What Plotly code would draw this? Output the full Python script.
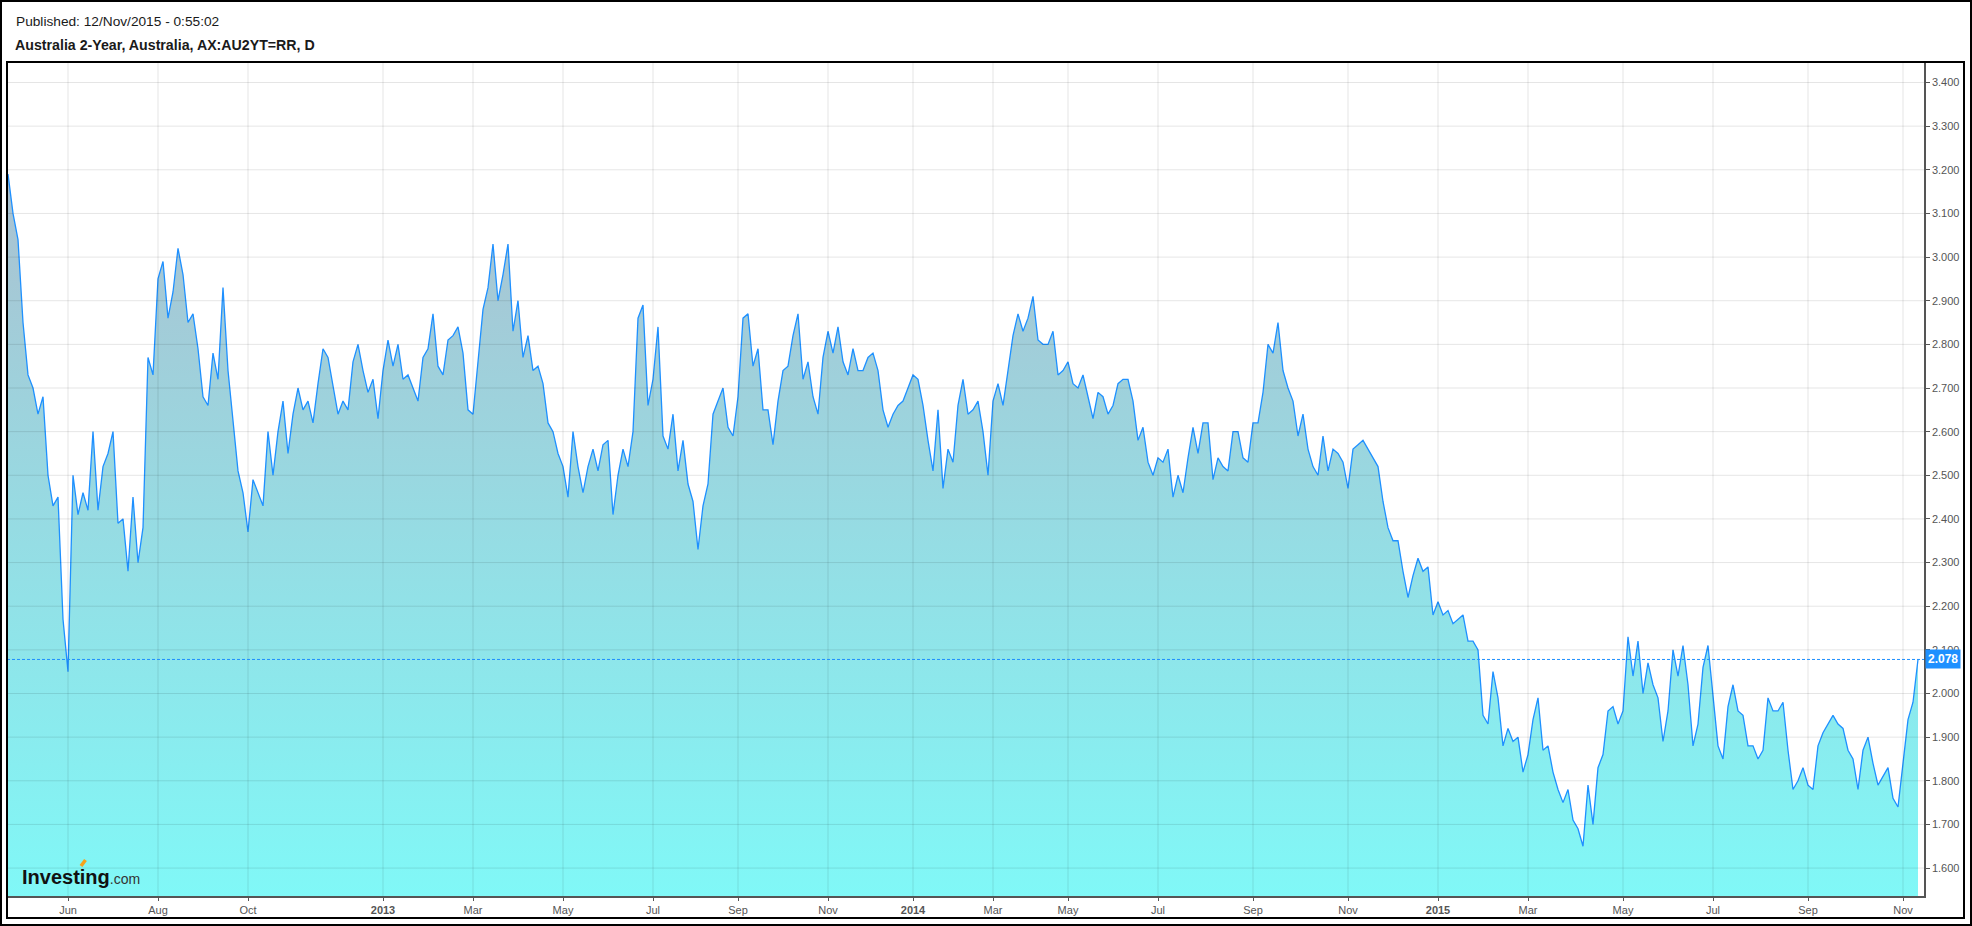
import pandas as pd
import plotly.graph_objects as go

# ---------------- data (Australia 2-Year yield, readings in %) ----------------
yields_2012_apr_may = [3.19, 3.10, 3.04, 2.85, 2.73, 2.70, 2.64, 2.68, 2.50, 2.43, 2.45, 2.17]
yields_2012_jun_jul = [2.05, 2.50, 2.41, 2.46, 2.42, 2.60, 2.42, 2.52, 2.55, 2.60, 2.39, 2.40,
                       2.28, 2.45, 2.30, 2.38, 2.77, 2.73]
yields_2012_aug_sep = [2.95, 2.99, 2.86, 2.92, 3.02, 2.96, 2.85, 2.87, 2.79, 2.68, 2.66, 2.78,
                       2.72, 2.93, 2.74, 2.63, 2.51, 2.46]
yields_2012_oct_dec = [2.37, 2.49, 2.46, 2.43, 2.60, 2.50, 2.60, 2.67, 2.55, 2.64, 2.70, 2.65,
                       2.67, 2.62, 2.71, 2.79, 2.77, 2.70, 2.64, 2.67, 2.65, 2.76, 2.80, 2.74,
                       2.69, 2.72, 2.63]
yields_2013_jan_feb = [2.74, 2.81, 2.75, 2.80, 2.72, 2.73, 2.70, 2.67, 2.77, 2.79, 2.87, 2.75,
                       2.73, 2.81, 2.82, 2.84, 2.78, 2.65]
yields_2013_mar_apr = [2.64, 2.76, 2.88, 2.93, 3.03, 2.90, 2.96, 3.03, 2.83, 2.90, 2.77, 2.82,
                       2.74, 2.75, 2.71, 2.62, 2.60, 2.55]
yields_2013_may_jun = [2.52, 2.45, 2.60, 2.52, 2.46, 2.52, 2.56, 2.51, 2.57, 2.58, 2.41, 2.50,
                       2.56, 2.52, 2.60, 2.86, 2.89, 2.66]
yields_2013_jul_aug = [2.72, 2.84, 2.59, 2.56, 2.64, 2.51, 2.58, 2.48, 2.44, 2.33, 2.43, 2.48,
                       2.64, 2.67, 2.70, 2.61, 2.59]
yields_2013_sep_oct = [2.68, 2.86, 2.87, 2.75, 2.79, 2.65, 2.65, 2.57, 2.67, 2.74, 2.75, 2.82,
                       2.87, 2.72, 2.76, 2.68, 2.64, 2.77]
yields_2013_nov_dec = [2.83, 2.78, 2.84, 2.76, 2.73, 2.79, 2.74, 2.74, 2.77, 2.78, 2.74, 2.65,
                       2.61, 2.64, 2.66, 2.67, 2.70]
yields_2014_jan_feb = [2.73, 2.72, 2.66, 2.58, 2.51, 2.65, 2.47, 2.56, 2.53, 2.66, 2.72, 2.64,
                       2.65, 2.67, 2.60, 2.50]
yields_2014_mar_apr = [2.67, 2.71, 2.66, 2.74, 2.82, 2.87, 2.83, 2.86, 2.91, 2.81, 2.80, 2.80,
                       2.83, 2.73, 2.74]
yields_2014_may_jun = [2.76, 2.71, 2.70, 2.73, 2.68, 2.63, 2.69, 2.68, 2.64, 2.66, 2.71, 2.72,
                       2.72, 2.67, 2.58, 2.61, 2.53, 2.50]
yields_2014_jul_aug = [2.54, 2.53, 2.56, 2.45, 2.50, 2.46, 2.54, 2.61, 2.55, 2.62, 2.62, 2.49,
                       2.54, 2.52, 2.51, 2.60, 2.60, 2.54, 2.53]
yields_2014_sep_oct = [2.62, 2.62, 2.69, 2.80, 2.78, 2.85, 2.74, 2.70, 2.67, 2.59, 2.64, 2.56,
                       2.52, 2.50, 2.59, 2.51, 2.56, 2.55, 2.53]
yields_2014_nov_dec = [2.47, 2.56, 2.57, 2.58, 2.56, 2.54, 2.52, 2.44, 2.38, 2.35, 2.35, 2.28,
                       2.22, 2.27, 2.31, 2.28, 2.29, 2.18]
yields_2015_jan_feb = [2.21, 2.18, 2.19, 2.16, 2.17, 2.18, 2.12, 2.12, 2.10, 1.95, 1.93, 2.05,
                       1.99, 1.88, 1.92, 1.89, 1.90, 1.82]
yields_2015_mar_apr = [1.86, 1.94, 1.99, 1.87, 1.88, 1.82, 1.78, 1.75, 1.78, 1.71, 1.69, 1.65,
                       1.79, 1.70, 1.83, 1.86, 1.96, 1.97, 1.93]
yields_2015_may_jun = [1.96, 2.13, 2.04, 2.12, 2.00, 2.07, 2.02, 1.99, 1.89, 1.96, 2.10, 2.04,
                       2.11, 2.02, 1.88, 1.93, 2.06, 2.11]
yields_2015_jul_aug = [1.99, 1.88, 1.85, 1.97, 2.02, 1.96, 1.95, 1.88, 1.88, 1.85, 1.87, 1.99,
                       1.96, 1.96, 1.98, 1.87, 1.78, 1.80, 1.83]
yields_2015_sep_oct = [1.79, 1.78, 1.88, 1.91, 1.93, 1.95, 1.93, 1.92, 1.87, 1.85, 1.78, 1.87,
                       1.90, 1.84, 1.79, 1.81, 1.83, 1.76, 1.74]
yields_2015_nov = [1.84, 1.94, 1.98, 2.078]

# (period start, period end, readings) -- readings are evenly spread over trading sessions
blocks = [
    ("2012-04-24", "2012-06-01", yields_2012_apr_may),
    ("2012-06-01", "2012-08-01", yields_2012_jun_jul),
    ("2012-08-01", "2012-10-01", yields_2012_aug_sep),
    ("2012-10-01", "2013-01-01", yields_2012_oct_dec),
    ("2013-01-01", "2013-03-01", yields_2013_jan_feb),
    ("2013-03-01", "2013-05-01", yields_2013_mar_apr),
    ("2013-05-01", "2013-07-01", yields_2013_may_jun),
    ("2013-07-01", "2013-09-01", yields_2013_jul_aug),
    ("2013-09-01", "2013-11-01", yields_2013_sep_oct),
    ("2013-11-01", "2014-01-01", yields_2013_nov_dec),
    ("2014-01-01", "2014-03-01", yields_2014_jan_feb),
    ("2014-03-01", "2014-05-01", yields_2014_mar_apr),
    ("2014-05-01", "2014-07-01", yields_2014_may_jun),
    ("2014-07-01", "2014-09-01", yields_2014_jul_aug),
    ("2014-09-01", "2014-11-01", yields_2014_sep_oct),
    ("2014-11-01", "2015-01-01", yields_2014_nov_dec),
    ("2015-01-01", "2015-03-01", yields_2015_jan_feb),
    ("2015-03-01", "2015-05-01", yields_2015_mar_apr),
    ("2015-05-01", "2015-07-01", yields_2015_may_jun),
    ("2015-07-01", "2015-09-01", yields_2015_jul_aug),
    ("2015-09-01", "2015-11-01", yields_2015_sep_oct),
    ("2015-11-01", "2015-11-13", yields_2015_nov),
]

tick_labels = ["Jun", "Aug", "Oct", "<b>2013</b>", "Mar", "May", "Jul", "Sep", "Nov",
               "<b>2014</b>", "Mar", "May", "Jul", "Sep", "Nov",
               "<b>2015</b>", "Mar", "May", "Jul", "Sep", "Nov"]

y_tick_values = [1.6, 1.7, 1.8, 1.9, 2.0, 2.1, 2.2, 2.3, 2.4, 2.5, 2.6, 2.7, 2.8, 2.9,
                 3.0, 3.1, 3.2, 3.3, 3.4]

# ---------------- build series ----------------
dates, values = [], []
for start, end, vals in blocks:
    ds = pd.date_range(start, end, periods=len(vals) + 1)[:-1]
    dates += [d.strftime("%Y-%m-%d") for d in ds]
    values += vals
tick_dates = [pd.Timestamp(s).strftime("%Y-%m-%d") for s, _, _ in blocks[1:]]

# ---------------- styling / geometry ----------------
W, H = 1972, 926
L, R, T, B = 7, 1924, 62, 896          # plot area edges (px)
Y_MIN, Y_MAX = 1.536, 3.447
FONT = "Liberation Sans, Arial, sans-serif"
LINE = "#1e90ff"
GRID = "rgba(0,0,0,0.10)"
AXIS = "#555555"


def px(x):
    return (x - L) / (R - L)


def py(y):
    return (B - y) / (B - T)


fig = go.Figure()
fig.add_trace(go.Scatter(
    x=dates, y=values, mode="lines",
    line=dict(color=LINE, width=1.3),
    fill="tozeroy",
    fillgradient=dict(type="vertical",
                      colorscale=[[0, "rgb(128,248,247)"], [1, "rgb(178,184,202)"]],
                      start=Y_MIN, stop=Y_MAX),
    hoverinfo="skip", showlegend=False,
))

shapes = []
for d in tick_dates:
    shapes.append(dict(type="line", xref="x", yref="paper", x0=d, x1=d, y0=0, y1=1,
                       line=dict(color=GRID, width=1), layer="above"))
for v in y_tick_values:
    shapes.append(dict(type="line", xref="paper", yref="y", x0=0, x1=1, y0=v, y1=v,
                       line=dict(color=GRID, width=1), layer="above"))
# last-price dashed line
shapes.append(dict(type="line", xref="paper", yref="y", x0=0, x1=1,
                   y0=values[-1], y1=values[-1],
                   line=dict(color=LINE, width=1, dash="3px,2px"), layer="above"))
# frames
shapes.append(dict(type="rect", xref="paper", yref="paper",
                   x0=px(7), x1=px(1964), y0=py(918), y1=py(62),
                   line=dict(color="#000", width=2), layer="above"))
shapes.append(dict(type="rect", xref="paper", yref="paper",
                   x0=px(1), x1=px(1971), y0=py(925), y1=py(1),
                   line=dict(color="#000", width=2), layer="above"))
# logo accent
shapes.append(dict(type="line", xref="paper", yref="paper",
                   x0=px(81), x1=px(85.5), y0=py(866), y1=py(860),
                   line=dict(color="#f7a21b", width=3.5), layer="above"))

annotations = [
    dict(text="Published: 12/Nov/2015 - 0:55:02", xref="paper", yref="paper",
         x=px(14), y=py(21), xanchor="left", yanchor="middle", showarrow=False,
         font=dict(family=FONT, size=13.7, color="#1a1a1a")),
    dict(text="<b>Australia 2-Year, Australia, AX:AU2YT=RR, D</b>", xref="paper", yref="paper",
         x=px(13), y=py(45), xanchor="left", yanchor="middle", showarrow=False,
         font=dict(family=FONT, size=14.2, color="#1a1a1a")),
    dict(text='<b>Investing</b><span style="font-size:14px;font-weight:normal;color:#333">.com</span>',
         xref="paper", yref="paper", x=px(20), y=py(877), xanchor="left", yanchor="middle",
         showarrow=False, font=dict(family=FONT, size=20, color="#111")),
    dict(text="<b>%.3f</b>" % values[-1], xref="paper", yref="y", x=px(1925), y=values[-1],
         xanchor="left", yanchor="middle", showarrow=False, bgcolor=LINE, borderpad=2,
         font=dict(family=FONT, size=12, color="#fff")),
]

fig.update_layout(
    width=W, height=H,
    margin=dict(l=L, r=W - R, t=T, b=H - B, pad=0),
    paper_bgcolor="#fff", plot_bgcolor="#fff",
    showlegend=False,
    xaxis=dict(type="category", range=[-0.2, len(values) + 0.2],
               tickmode="array", tickvals=tick_dates, ticktext=tick_labels,
               ticks="outside", ticklen=3, tickcolor=AXIS,
               tickfont=dict(family=FONT, size=11, color="#555"),
               showgrid=False, zeroline=False, showline=True,
               linecolor=AXIS, linewidth=1.5, fixedrange=True),
    yaxis=dict(side="right", range=[Y_MIN, Y_MAX],
               tickmode="linear", tick0=1.6, dtick=0.1, tickformat=".3f",
               ticks="outside", ticklen=4, tickcolor=AXIS,
               tickfont=dict(family=FONT, size=11, color="#555"),
               showgrid=False, zeroline=False, showline=True,
               linecolor=AXIS, linewidth=1.5, fixedrange=True),
    shapes=shapes,
    annotations=annotations,
)

fig.write_html(
    "out.html",
    config={"displayModeBar": False},
    post_script="document.body.style.margin='0';document.body.style.overflow='hidden';",
)
